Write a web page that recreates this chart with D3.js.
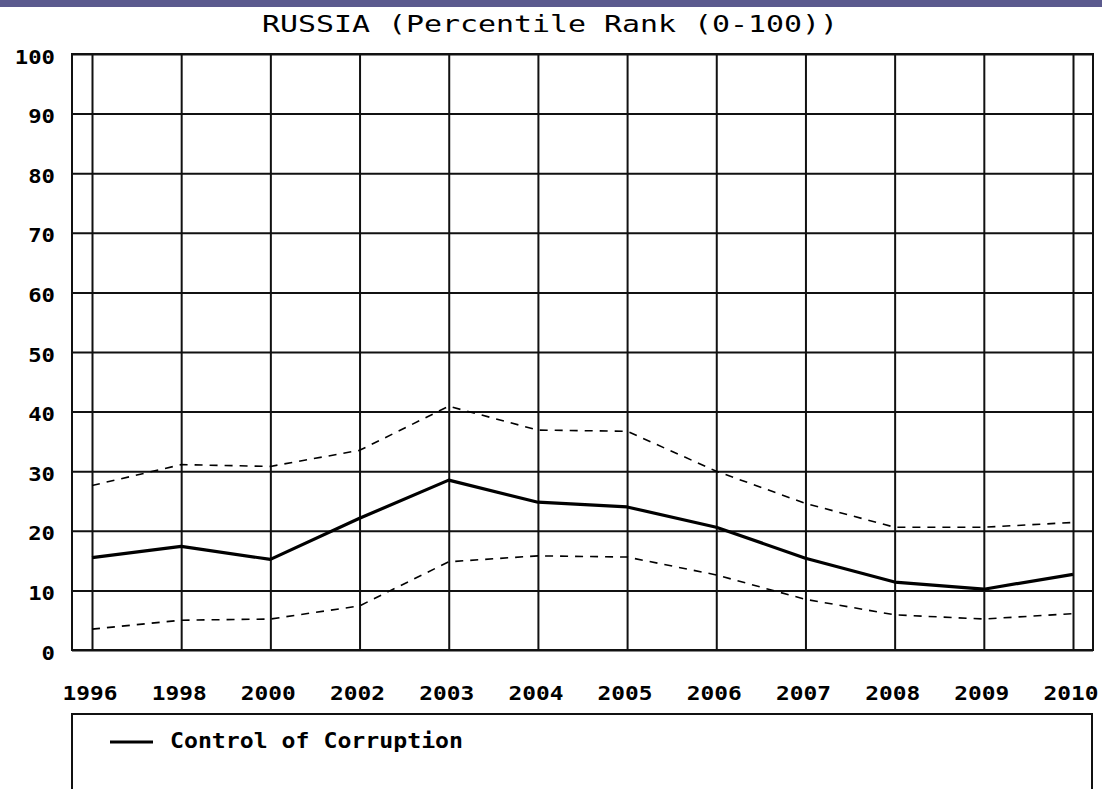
<!DOCTYPE html>
<html>
<head>
<meta charset="utf-8">
<script src="https://cdn.jsdelivr.net/npm/d3@7"></script>
<style>
  html, body { margin: 0; padding: 0; background: #fff; }
  svg { display: block; }
</style>
</head>
<body>
<svg id="chart" width="1102" height="789"></svg>
<script>
const title = "RUSSIA (Percentile Rank (0-100))";
const years = ["1996","1998","2000","2002","2003","2004","2005","2006","2007","2008","2009","2010"];
const control = [15.5, 17.4, 15.2, 22.1, 28.5, 24.8, 24.0, 20.6, 15.4, 11.4, 10.2, 12.7];
const upper   = [27.6, 31.1, 30.8, 33.5, 40.9, 36.9, 36.7, 30.0, 24.6, 20.6, 20.6, 21.4];
const lower   = [3.5, 5.0, 5.2, 7.4, 14.8, 15.8, 15.6, 12.6, 8.5, 5.9, 5.2, 6.1];
const yTicks  = [0, 10, 20, 30, 40, 50, 60, 70, 80, 90, 100];
const legendLabel = "Control of Corruption";

const svg = d3.select("#chart");
const W = 1102;
const frame = { left: 72, right: 1093, top: 54, bottom: 650 };

// top band
svg.append("rect").attr("x", 0).attr("y", 0).attr("width", W).attr("height", 7).attr("fill", "#5b5a8e");

// title
svg.append("text")
  .attr("x", 550).attr("y", 32)
  .attr("text-anchor", "middle")
  .attr("font-family", "DejaVu Sans Mono")
  .attr("font-size", 23)
  .attr("textLength", 576).attr("lengthAdjust", "spacingAndGlyphs")
  .attr("fill", "#000")
  .text(title);

const x = d3.scalePoint().domain(years).range([92, 1073]);
const y = d3.scaleLinear().domain([0, 100]).range([frame.bottom, frame.top]);

// horizontal gridlines + y labels
const yAxis = svg.append("g")
  .attr("transform", `translate(${frame.left},0)`)
  .call(d3.axisLeft(y).tickValues(yTicks).tickSize(-(frame.right - frame.left)).tickPadding(17).tickFormat(d3.format("d")));
yAxis.select(".domain").remove();
yAxis.selectAll(".tick line").attr("stroke", "#111").attr("stroke-width", 2);
yAxis.selectAll(".tick text")
  .attr("font-family", "DejaVu Sans Mono").attr("font-weight", "bold").attr("font-size", 20)
  .attr("fill", "#000").attr("dy", "0.45em")
  .each(function(d) { d3.select(this).attr("textLength", String(d).length * 13.4).attr("lengthAdjust", "spacingAndGlyphs"); });

// vertical gridlines + x labels
const xAxis = svg.append("g")
  .attr("transform", `translate(0,${frame.bottom})`)
  .call(d3.axisBottom(x).tickSize(-(frame.bottom - frame.top)));
xAxis.select(".domain").remove();
xAxis.selectAll(".tick line").attr("stroke", "#111").attr("stroke-width", 2);
xAxis.selectAll(".tick text")
  .attr("font-family", "DejaVu Sans Mono").attr("font-weight", "bold").attr("font-size", 20)
  .attr("fill", "#000").attr("y", 50).attr("dy", 0).attr("dx", -2.5)
  .attr("textLength", 55).attr("lengthAdjust", "spacingAndGlyphs");

// frame
svg.append("rect")
  .attr("x", frame.left).attr("y", frame.top)
  .attr("width", frame.right - frame.left).attr("height", frame.bottom - frame.top)
  .attr("fill", "none").attr("stroke", "#111").attr("stroke-width", 2);

const line = d3.line().x((d, i) => x(years[i])).y(d => y(d));

svg.append("path").datum(upper).attr("d", line)
  .attr("fill", "none").attr("stroke", "#000").attr("stroke-width", 1.6).attr("stroke-dasharray", "8,7");
svg.append("path").datum(lower).attr("d", line)
  .attr("fill", "none").attr("stroke", "#000").attr("stroke-width", 1.6).attr("stroke-dasharray", "8,7");
svg.append("path").datum(control).attr("d", line)
  .attr("fill", "none").attr("stroke", "#000").attr("stroke-width", 3.2).attr("stroke-linejoin", "round");

// legend
svg.append("rect")
  .attr("x", 72).attr("y", 714).attr("width", 1020).attr("height", 120)
  .attr("fill", "#fff").attr("stroke", "#111").attr("stroke-width", 2);
svg.append("line")
  .attr("x1", 110).attr("x2", 153).attr("y1", 742).attr("y2", 742)
  .attr("stroke", "#000").attr("stroke-width", 3.2);
svg.append("text")
  .attr("x", 170).attr("y", 748)
  .attr("font-family", "DejaVu Sans Mono").attr("font-weight", "bold").attr("font-size", 21)
  .attr("textLength", 293).attr("lengthAdjust", "spacingAndGlyphs")
  .attr("fill", "#000")
  .text(legendLabel);
</script>
</body>
</html>
